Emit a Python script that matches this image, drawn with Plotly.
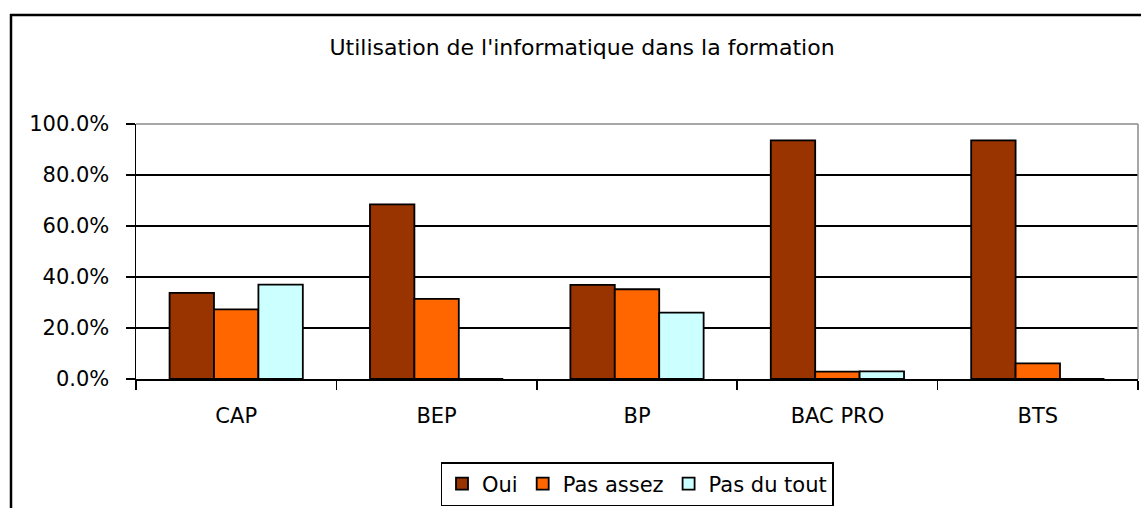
import plotly.graph_objects as go

categories = ["CAP", "BEP", "BP", "BAC PRO", "BTS"]
oui = [0.338, 0.685, 0.369, 0.936, 0.936]
pas_assez = [0.273, 0.314, 0.352, 0.029, 0.061]
pas_du_tout = [0.370, 0.0, 0.260, 0.030, 0.0]
series_names = ["Oui", "Pas assez", "Pas du tout"]
series_colors = ["#993300", "#FF6600", "#CCFFFF"]
y_tick_values = [0, 0.2, 0.4, 0.6, 0.8, 1.0]

W, H = 1141, 508
L, R, T, B = 136, 1138, 124, 379  # plot area in px

fig = go.Figure()
for name, vals, col in zip(series_names, [oui, pas_assez, pas_du_tout], series_colors):
    fig.add_trace(go.Bar(
        x=categories, y=vals, name=name,
        marker=dict(color=col, line=dict(color="black", width=1.8)),
    ))

def px_x(px):
    return (px - L) / (R - L)

def px_y(py):
    return (B - py) / (B - T)

shapes = [
    # outer chart frame (left and top)
    dict(type="line", xref="paper", yref="paper", x0=px_x(11), x1=px_x(11),
         y0=px_y(14), y1=px_y(520), line=dict(color="black", width=2.5)),
    dict(type="line", xref="paper", yref="paper", x0=px_x(10), x1=px_x(1160),
         y0=px_y(15), y1=px_y(15), line=dict(color="black", width=2.5)),
    # plot area border top & right (gray)
    dict(type="line", xref="paper", yref="paper", x0=0, x1=1, y0=1, y1=1,
         line=dict(color="#8a8a8a", width=1.5)),
    dict(type="line", xref="paper", yref="paper", x0=1, x1=1, y0=0, y1=1,
         line=dict(color="#8a8a8a", width=1.5)),
]

fig.update_layout(
    width=W, height=H,
    margin=dict(l=L, r=W - R, t=T, b=H - B, pad=0),
    paper_bgcolor="white", plot_bgcolor="white",
    barmode="group", bargap=0.335, bargroupgap=0,
    font=dict(family="DejaVu Sans", size=21, color="black"),
    title=dict(text="Utilisation de l'informatique dans la formation",
               xref="container", yref="container",
               x=582 / W, y=1 - 47 / H, xanchor="center", yanchor="middle",
               font=dict(family="DejaVu Sans", size=22, color="black")),
    showlegend=True,
    legend=dict(orientation="h", xref="container", yref="container",
                x=637 / W, y=1 - 462 / H, xanchor="center", yanchor="top",
                bordercolor="black", borderwidth=1.5, bgcolor="white",
                font=dict(family="DejaVu Sans", size=21, color="black"),
                traceorder="normal", itemwidth=30),
    shapes=shapes,
    xaxis=dict(
        showgrid=False, showline=True, linecolor="black", linewidth=1.5,
        ticks="outside", tickson="boundaries", ticklen=9, tickcolor="black", tickwidth=1.5,
        ticklabelstandoff=17,
        tickfont=dict(family="DejaVu Sans", size=21, color="black"),
        fixedrange=True,
    ),
    yaxis=dict(
        range=[0, 1], tickvals=y_tick_values, tickformat=".1%",
        showgrid=True, gridcolor="black", gridwidth=1.2,
        showline=True, linecolor="black", linewidth=1.5,
        ticks="outside", ticklen=9, tickcolor="black", tickwidth=1.5,
        ticklabelstandoff=12,
        tickfont=dict(family="DejaVu Sans", size=21, color="black"),
        zeroline=False, fixedrange=True,
    ),
)

fig.write_html("out.html",
               config={"displayModeBar": False, "staticPlot": True},
               post_script="document.body.style.margin='0';document.body.style.overflow='hidden';")
